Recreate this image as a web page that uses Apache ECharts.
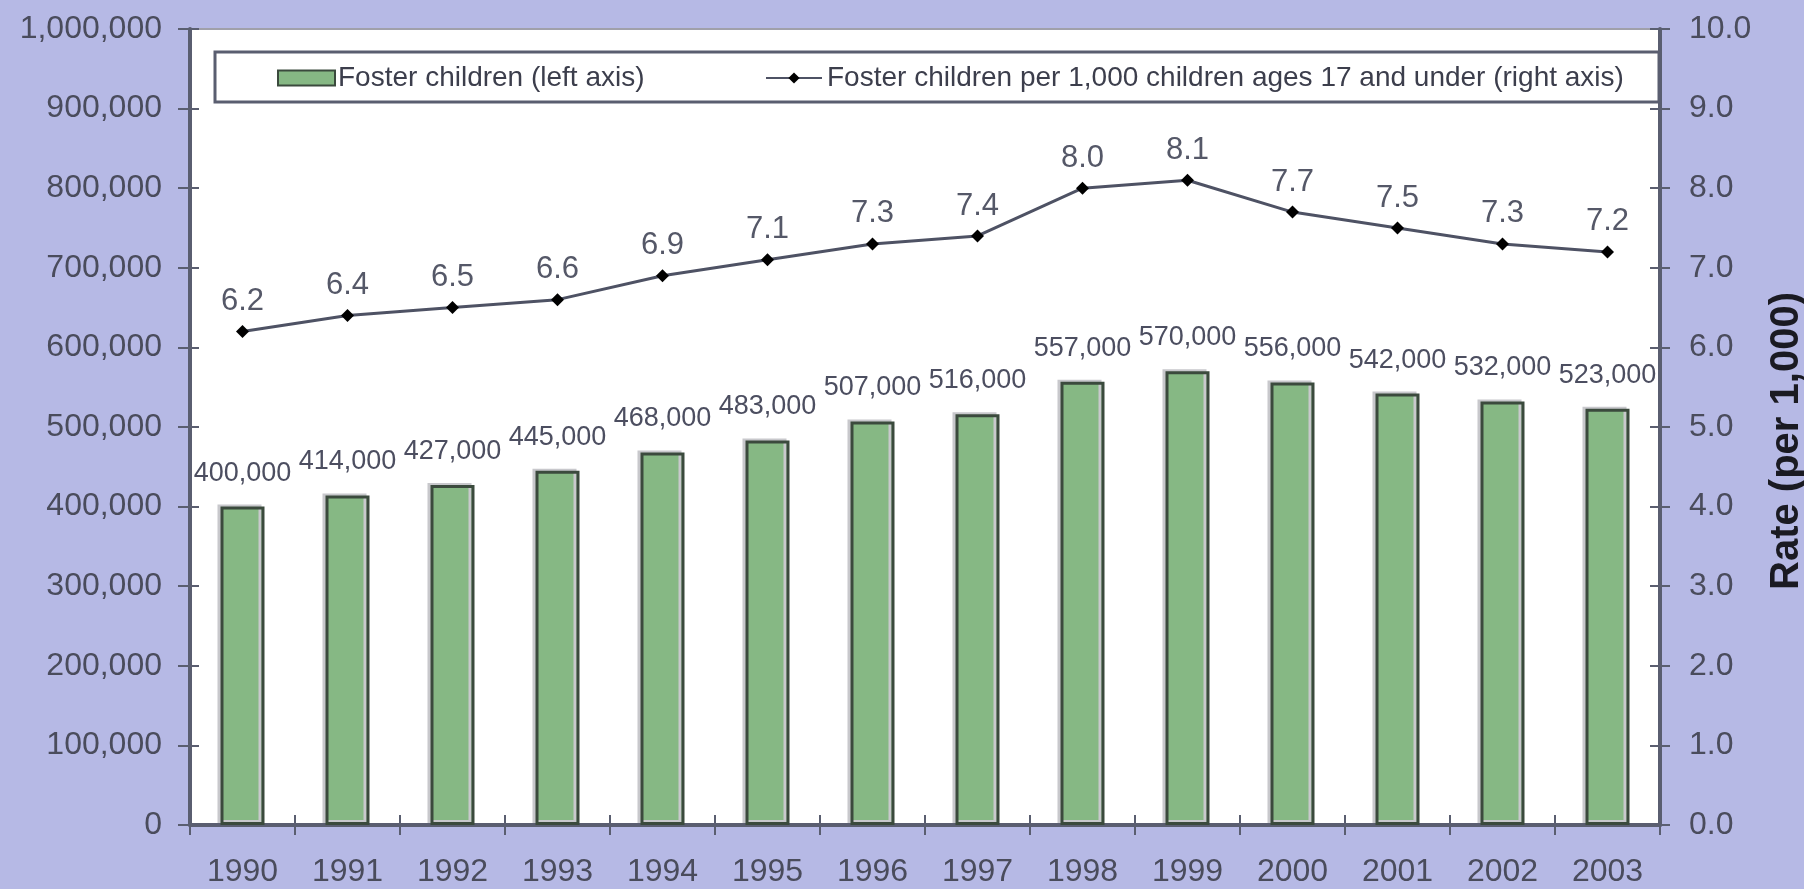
<!DOCTYPE html>
<html>
<head>
<meta charset="utf-8">
<script src="https://cdn.jsdelivr.net/npm/echarts@6/dist/echarts.min.js"></script>
<style>
html,body{margin:0;padding:0;background:#b6b9e5;}
#chart{width:1804px;height:889px;}
</style>
</head>
<body>
<div id="chart"></div>
<script>
const years = ['1990','1991','1992','1993','1994','1995','1996','1997','1998','1999','2000','2001','2002','2003'];
const fosterChildren = [400000,414000,427000,445000,468000,483000,507000,516000,557000,570000,556000,542000,532000,523000];
const ratePer1000 = [6.2,6.4,6.5,6.6,6.9,7.1,7.3,7.4,8.0,8.1,7.7,7.5,7.3,7.2];
const barName = 'Foster children (left axis)';
const lineName = 'Foster children per 1,000 children ages 17 and under (right axis)';
const rightAxisName = 'Rate (per 1,000)';

const FONT = '"Liberation Sans",Arial,sans-serif';
const TXT = '#4a4c5c';
const AX = '#5a5e70';
const fmtNum = v => Number(v).toLocaleString('en-US');

const chart = echarts.init(document.getElementById('chart'));
chart.setOption({
  backgroundColor: '#b6b9e5',
  animation: false,
  grid: {left: 190, right: 144, top: 29, bottom: 64, outerBoundsMode: 'none', containLabel: false,
         show: true, backgroundColor: '#ffffff', borderColor: '#a0a0aa', borderWidth: 2},
  graphic: [{
    type: 'rect', z: 1,
    shape: {x: 215, y: 52, width: 1444, height: 50},
    style: {fill: '#ffffff', stroke: AX, lineWidth: 3}
  }],
  legend: [
    {data: [{name: barName, icon: 'rect'}], left: 277, top: 62, padding: 0, itemWidth: 57, itemHeight: 15, itemGap: 0, z: 5,
     textStyle: {fontFamily: FONT, fontSize: 28, color: '#3c3e4c', lineHeight: 32, padding: [0, 0, 0, -2]}},
    {data: [lineName], left: 765, top: 62, padding: 0, itemWidth: 56, itemHeight: 14, itemGap: 0, z: 5,
     textStyle: {fontFamily: FONT, fontSize: 28, color: '#3c3e4c', lineHeight: 32}}
  ],
  xAxis: [
    {type: 'category', data: years, position: 'bottom',
     axisLine: {lineStyle: {color: AX, width: 4}},
     axisTick: {show: true, length: 10, lineStyle: {color: AX, width: 2}},
     axisLabel: {interval: 0, fontFamily: FONT, fontSize: 32, color: TXT, margin: 31}},
    {type: 'category', data: years, position: 'bottom',
     axisLine: {show: false},
     axisTick: {show: true, inside: true, length: 10, lineStyle: {color: AX, width: 2}},
     axisLabel: {show: false}}
  ],
  yAxis: [
    {type: 'value', min: 0, max: 1000000, interval: 100000, position: 'left',
     axisLine: {show: true, lineStyle: {color: AX, width: 4}},
     axisTick: {show: true, length: 12, lineStyle: {color: AX, width: 2}},
     axisLabel: {fontFamily: FONT, fontSize: 32, color: TXT, margin: 28, formatter: fmtNum},
     splitLine: {show: false}},
    {type: 'value', min: 0, max: 10, interval: 1, position: 'right',
     name: rightAxisName, nameLocation: 'middle', nameGap: 107, nameRotate: 90,
     nameTextStyle: {fontFamily: FONT, fontWeight: 'bold', fontSize: 40, color: '#1a1a22', padding: [0, 28, 0, 0]},
     axisLine: {show: true, lineStyle: {color: AX, width: 4}},
     axisTick: {show: true, length: 10, lineStyle: {color: AX, width: 2}},
     axisLabel: {fontFamily: FONT, fontSize: 32, color: TXT, margin: 29, formatter: v => v.toFixed(1)},
     splitLine: {show: false}},
    {type: 'value', min: 0, max: 1000000, interval: 100000, position: 'left',
     axisLine: {show: false},
     axisTick: {show: true, inside: true, length: 9, lineStyle: {color: AX, width: 2}},
     axisLabel: {show: false}, splitLine: {show: false}},
    {type: 'value', min: 0, max: 10, interval: 1, position: 'right',
     axisLine: {show: false},
     axisTick: {show: true, inside: true, length: 10, lineStyle: {color: AX, width: 2}},
     axisLabel: {show: false}, splitLine: {show: false}}
  ],
  series: [
    {name: barName, type: 'bar', xAxisIndex: 0, yAxisIndex: 0, data: fosterChildren, barWidth: 44,
     itemStyle: {color: '#86b884', borderColor: '#3b4a3d', borderWidth: 3,
                 shadowColor: '#c8c8cc', shadowOffsetX: -3, shadowOffsetY: -2, shadowBlur: 0},
     label: {show: true, position: 'top', distance: 20, fontFamily: FONT, fontSize: 27, color: '#4c4e60',
             formatter: p => fmtNum(p.value)}},
    {name: lineName, type: 'line', xAxisIndex: 0, yAxisIndex: 1, data: ratePer1000,
     symbol: 'diamond', symbolSize: 13,
     lineStyle: {color: '#4e5264', width: 3},
     itemStyle: {color: '#000000'},
     label: {show: true, position: 'top', distance: 8, fontFamily: FONT, fontSize: 31, color: '#555868',
             formatter: p => p.value.toFixed(1)}}
  ]
});
</script>
</body>
</html>
